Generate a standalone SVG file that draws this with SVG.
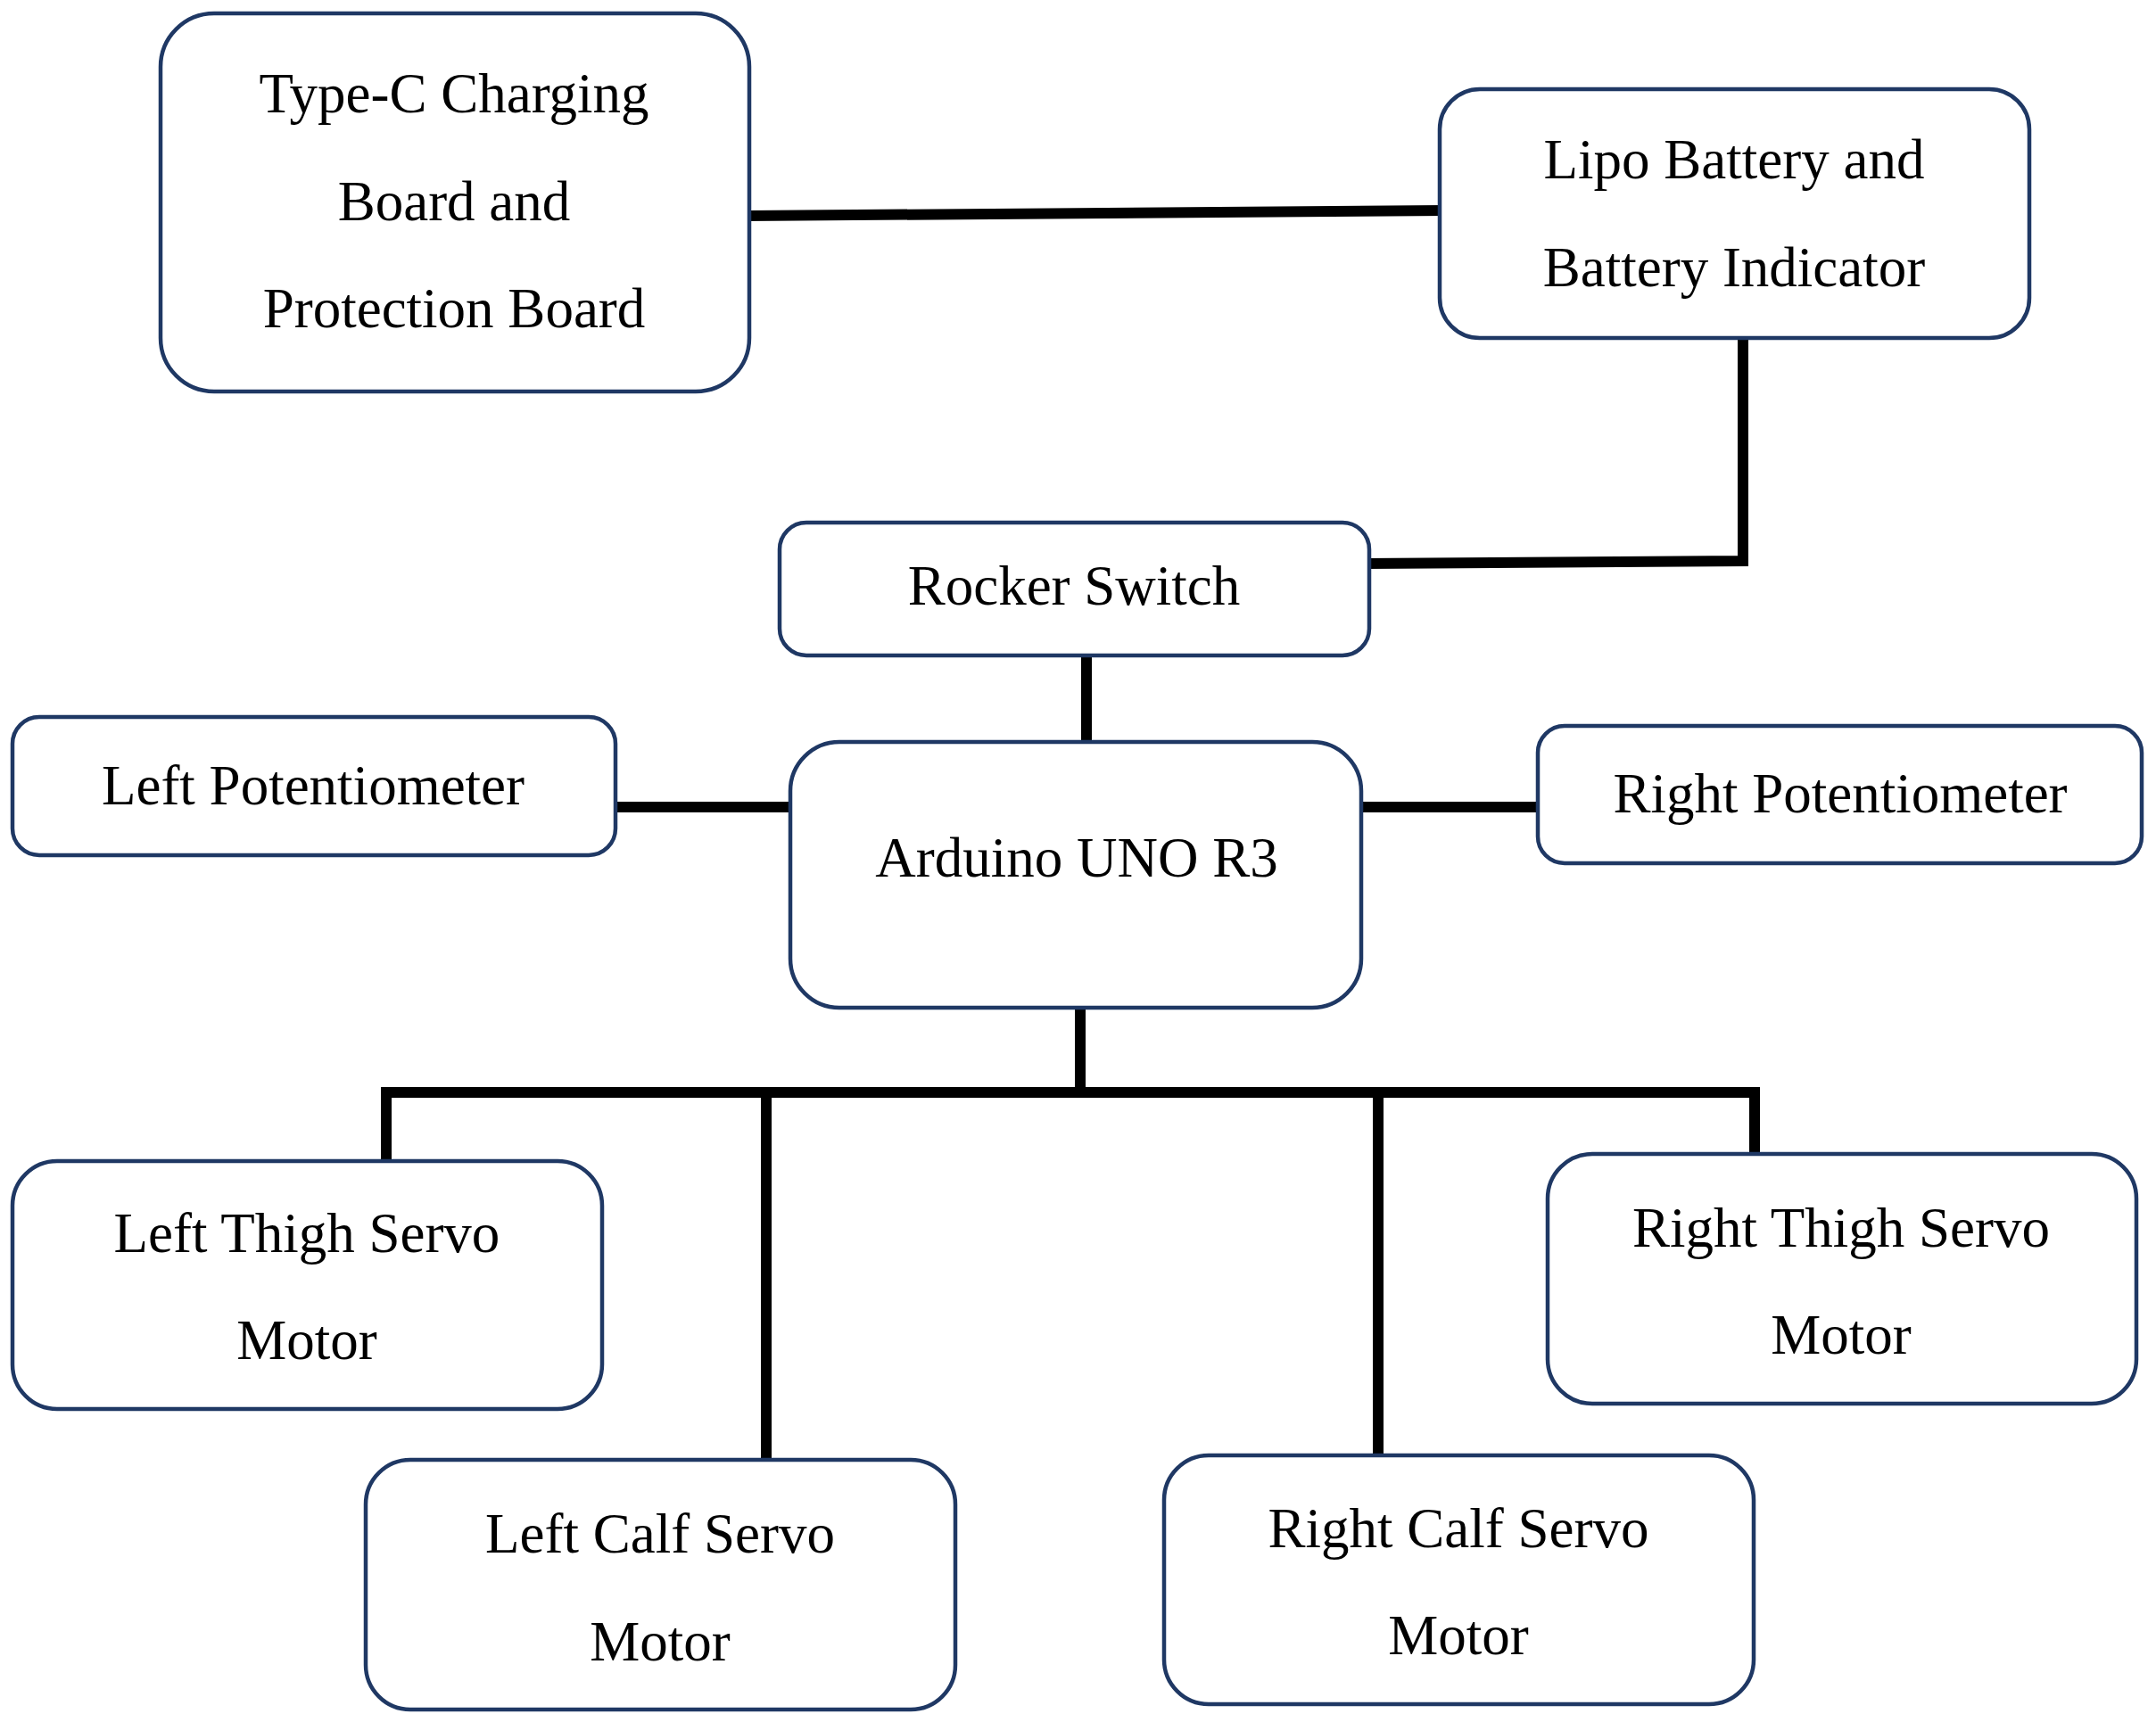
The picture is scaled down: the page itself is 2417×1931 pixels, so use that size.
<svg xmlns="http://www.w3.org/2000/svg" width="2417" height="1931" viewBox="0 0 2417 1931">
<style>
.b{fill:#fff;stroke:#1f3864;stroke-width:4.5}
.t{font-family:"Liberation Serif",serif;font-size:63px;fill:#000;text-anchor:middle}
.c{stroke:#000;stroke-width:12;fill:none;stroke-linecap:square}
</style>
<rect width="2417" height="1931" fill="#fff"/>
<g id="connectors">
<path class="c" d="M840 242 L1614 236"/>
<path class="c" d="M1954 379 L1954 629 L1535 632"/>
<path class="c" d="M1218 735 L1218 832"/>
<path class="c" d="M690 905 L886 905"/>
<path class="c" d="M1526 905 L1724 905"/>
<path class="c" d="M1211 1130 L1211 1225"/>
<path class="c" d="M433 1225 L1967 1225"/>
<path class="c" d="M433 1225 L433 1302"/>
<path class="c" d="M859 1225 L859 1637"/>
<path class="c" d="M1545 1225 L1545 1632"/>
<path class="c" d="M1967 1225 L1967 1294"/>
</g>
<g id="typec"><rect class="b" x="180" y="15" width="660" height="424" rx="60"/>
<text class="t" x="509" y="126">Type-C Charging</text><text class="t" x="509" y="247">Board and</text><text class="t" x="509" y="367">Protection Board</text></g>
<g id="lipo"><rect class="b" x="1614" y="100" width="661" height="279" rx="45"/>
<text class="t" x="1944" y="200">Lipo Battery and</text><text class="t" x="1944" y="321">Battery Indicator</text></g>
<g id="rocker"><rect class="b" x="874" y="586" width="661" height="149" rx="30"/>
<text class="t" x="1204" y="678">Rocker Switch</text></g>
<g id="leftpot"><rect class="b" x="14" y="804" width="676" height="155" rx="30"/>
<text class="t" x="351" y="902">Left Potentiometer</text></g>
<g id="arduino"><rect class="b" x="886" y="832" width="640" height="298" rx="55"/>
<text class="t" x="1207" y="983">Arduino UNO R3</text></g>
<g id="rightpot"><rect class="b" x="1724" y="814" width="677" height="154" rx="30"/>
<text class="t" x="2063" y="911">Right Potentiometer</text></g>
<g id="leftthigh"><rect class="b" x="14" y="1302" width="661" height="278" rx="50"/>
<text class="t" x="344" y="1404">Left Thigh Servo</text><text class="t" x="344" y="1524">Motor</text></g>
<g id="rightthigh"><rect class="b" x="1735" y="1294" width="660" height="280" rx="50"/>
<text class="t" x="2064" y="1398">Right Thigh Servo</text><text class="t" x="2064" y="1518">Motor</text></g>
<g id="leftcalf"><rect class="b" x="410" y="1637" width="661" height="280" rx="50"/>
<text class="t" x="740" y="1741">Left Calf Servo</text><text class="t" x="740" y="1862">Motor</text></g>
<g id="rightcalf"><rect class="b" x="1305" y="1632" width="661" height="279" rx="50"/>
<text class="t" x="1635" y="1735">Right Calf Servo</text><text class="t" x="1635" y="1855">Motor</text></g>
</svg>
